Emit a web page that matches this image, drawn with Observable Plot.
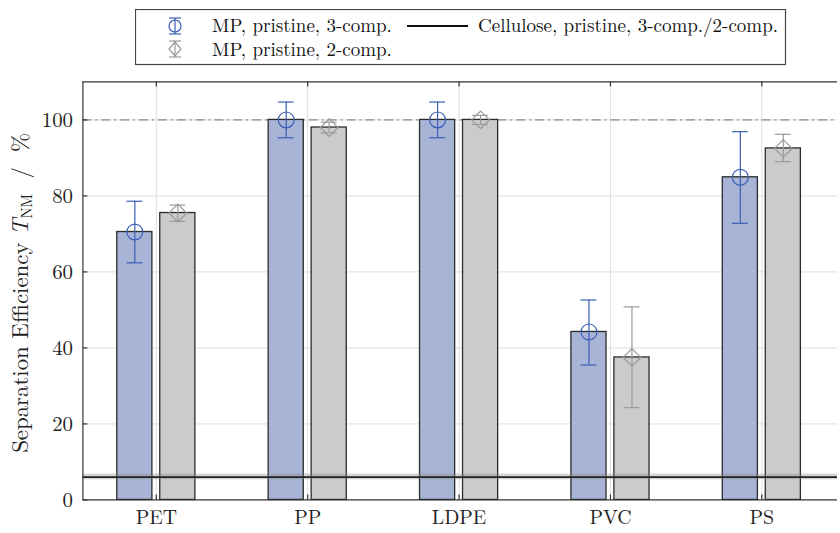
<!DOCTYPE html>
<html><head><meta charset="utf-8">
<script src="https://cdn.jsdelivr.net/npm/d3@7"></script>
<script src="https://cdn.jsdelivr.net/npm/@observablehq/plot@0.6"></script>
<style>
html,body{margin:0;padding:0;background:#fff;overflow:hidden;width:840px;height:533px}
#wrap{position:relative;width:840px;height:533px;overflow:hidden}
#chart{position:absolute;left:0;top:0}
#legend{position:absolute;left:135px;top:9px}
</style></head><body>
<div id="wrap"><div id="chart"></div><div id="legend"></div></div>
<script>
const categories = ["PET", "PP", "LDPE", "PVC", "PS"];
const mp3 = [70.5, 100, 100, 44.2, 84.9];
const mp3Lo = [62.4, 95.3, 95.3, 35.5, 72.8];
const mp3Hi = [78.6, 104.7, 104.7, 52.6, 96.9];
const mp2 = [75.5, 98, 100, 37.5, 92.5];
const mp2Lo = [73.3, 96.6, 98.8, 24.3, 89.0];
const mp2Hi = [77.6, 99.4, 101.2, 50.8, 96.2];
const cellulose = 6.0;
const celluloseLo = 5.3;
const celluloseHi = 6.8;
const yTicks = [0, 20, 40, 60, 80, 100];
const legendLabels = ["MP, pristine, 3-comp.", "MP, pristine, 2-comp.", "Cellulose, pristine, 3-comp./2-comp."];

const FONT = '"Latin Modern Roman", "Liberation Serif", serif';
const blueFill = "#a7b4d6", blueLine = "#3a5db5";
const grayFill = "#cbcbcb", grayLine = "#9a9a9a";
const off = 0.142, half = 0.116;

const rows = [];
categories.forEach((c, i) => {
  rows.push({cat: c, pos: i + 1 - off, v: mp3[i], lo: mp3Lo[i], hi: mp3Hi[i], s: "3"});
  rows.push({cat: c, pos: i + 1 + off, v: mp2[i], lo: mp2Lo[i], hi: mp2Hi[i], s: "2"});
});
const r3 = rows.filter(d => d.s === "3"), r2 = rows.filter(d => d.s === "2");
const catPos = categories.map((c, i) => i + 1);
const xMin = 0.515, xMax = 5.5;

const plot = Plot.plot({
  width: 846, height: 533,
  marginTop: 82, marginBottom: 30, marginLeft: 83, marginRight: 3,
  style: {fontFamily: FONT, fontSize: "20px", color: "#222", background: "#fff"},
  x: {domain: [xMin, xMax], axis: null},
  y: {domain: [0, 110], axis: null},
  marks: [
    Plot.ruleY(yTicks.filter(t => t > 0), {stroke: "#dedede", strokeWidth: 1}),
    Plot.ruleX(catPos, {stroke: "#dedede", strokeWidth: 1}),
    Plot.ruleY([100], {stroke: "#8a8a8a", strokeWidth: 1.2, strokeDasharray: "9,4,2,4"}),
    Plot.rectY(r3, {x1: d => d.pos - half, x2: d => d.pos + half, y1: 0, y2: "v", fill: blueFill, stroke: "#2a2a2a", strokeWidth: 1.3}),
    Plot.rectY(r2, {x1: d => d.pos - half, x2: d => d.pos + half, y1: 0, y2: "v", fill: grayFill, stroke: "#2a2a2a", strokeWidth: 1.3}),
    Plot.rectY([cellulose], {x1: xMin, x2: xMax, y1: celluloseLo, y2: celluloseHi, fill: "#888", fillOpacity: 0.35}),
    Plot.ruleY([cellulose], {stroke: "#222", strokeWidth: 2}),
    Plot.ruleX(r3, {x: "pos", y1: "lo", y2: "hi", stroke: blueLine, strokeWidth: 1.2}),
    Plot.ruleY(r3, {x1: "pos", x2: "pos", y: "lo", insetLeft: -8, insetRight: -8, stroke: blueLine, strokeWidth: 1.2}),
    Plot.ruleY(r3, {x1: "pos", x2: "pos", y: "hi", insetLeft: -8, insetRight: -8, stroke: blueLine, strokeWidth: 1.2}),
    Plot.dot(r3, {x: "pos", y: "v", r: 8, stroke: blueLine, strokeWidth: 1.2, fill: "none"}),
    Plot.ruleX(r2, {x: "pos", y1: "lo", y2: "hi", stroke: grayLine, strokeWidth: 1.2}),
    Plot.ruleY(r2, {x1: "pos", x2: "pos", y: "lo", insetLeft: -8, insetRight: -8, stroke: grayLine, strokeWidth: 1.2}),
    Plot.ruleY(r2, {x1: "pos", x2: "pos", y: "hi", insetLeft: -8, insetRight: -8, stroke: grayLine, strokeWidth: 1.2}),
    Plot.dot(r2, {x: "pos", y: "v", r: 8, symbol: "diamond2", stroke: grayLine, strokeWidth: 1.2, fill: "none"}),
    Plot.ruleY([0, 110], {x1: xMin, x2: xMax, stroke: "#333", strokeWidth: 1.2}),
    Plot.ruleX([xMin], {y1: 0, y2: 110, stroke: "#333", strokeWidth: 1.2}),
    Plot.ruleX(catPos, {y1: 0, y2: 0, insetTop: -5, stroke: "#333", strokeWidth: 1.2}),
    Plot.ruleX(catPos, {y1: 110, y2: 110, insetBottom: -5, stroke: "#333", strokeWidth: 1.2}),
    Plot.ruleY(yTicks, {x1: xMin, x2: xMin, insetRight: -5, stroke: "#333", strokeWidth: 1.2}),
    Plot.text(categories, {x: (d, i) => i + 1, y: 0, dy: 18, text: d => d, fontSize: 20, fontFamily: FONT, fill: "#222"}),
    Plot.text(yTicks, {x: xMin, y: d => d, dx: -10, textAnchor: "end", text: d => String(d), fontSize: 21, fontFamily: FONT, fill: "#222"})
  ]
});
document.getElementById("chart").appendChild(plot);

const svg = d3.select(plot);
const lab = svg.append("text")
  .attr("transform", "translate(28,295) rotate(-90)")
  .attr("text-anchor", "middle")
  .style("font-family", FONT)
  .style("font-size", "23px").attr("fill", "#222");
lab.append("tspan").text("Separation Efficiency ");
lab.append("tspan").style("font-style", "italic").text("T");
lab.append("tspan").style("font-size", "15px").attr("dy", 4).text("NM");
lab.append("tspan").attr("dy", -4).text("  /  %");

const L = d3.select("#legend").append("svg").attr("width", 652).attr("height", 57);
L.append("rect").attr("x", 0.5).attr("y", 0.5).attr("width", 650).attr("height", 55)
  .attr("fill", "#fff").attr("stroke", "#444").attr("stroke-width", 1.2);
function glyph(g, cx, cy, color, shape) {
  g.append("line").attr("x1", cx).attr("x2", cx).attr("y1", cy - 8).attr("y2", cy + 8).attr("stroke", color).attr("stroke-width", 1.2);
  g.append("line").attr("x1", cx - 6).attr("x2", cx + 6).attr("y1", cy - 8).attr("y2", cy - 8).attr("stroke", color).attr("stroke-width", 1.2);
  g.append("line").attr("x1", cx - 6).attr("x2", cx + 6).attr("y1", cy + 8).attr("y2", cy + 8).attr("stroke", color).attr("stroke-width", 1.2);
  if (shape === "circle") g.append("circle").attr("cx", cx).attr("cy", cy).attr("r", 6).attr("fill", "none").attr("stroke", color).attr("stroke-width", 1.2);
  else g.append("path").attr("d", `M${cx},${cy-7}L${cx+6},${cy}L${cx},${cy+7}L${cx-6},${cy}Z`).attr("fill", "none").attr("stroke", color).attr("stroke-width", 1.2);
}
glyph(L, 40, 17, blueLine, "circle");
glyph(L, 40, 40, grayLine, "diamond");
function ltext(x, y, t) {
  L.append("text").attr("x", x).attr("y", y).attr("fill", "#111")
    .style("font-family", FONT).style("font-size", "19px").text(t);
}
ltext(77, 22.5, legendLabels[0]);
ltext(77, 46.5, legendLabels[1]);
L.append("line").attr("x1", 272).attr("x2", 333).attr("y1", 17).attr("y2", 17).attr("stroke", "#111").attr("stroke-width", 2);
ltext(343, 22.5, legendLabels[2]);
</script></body></html>
